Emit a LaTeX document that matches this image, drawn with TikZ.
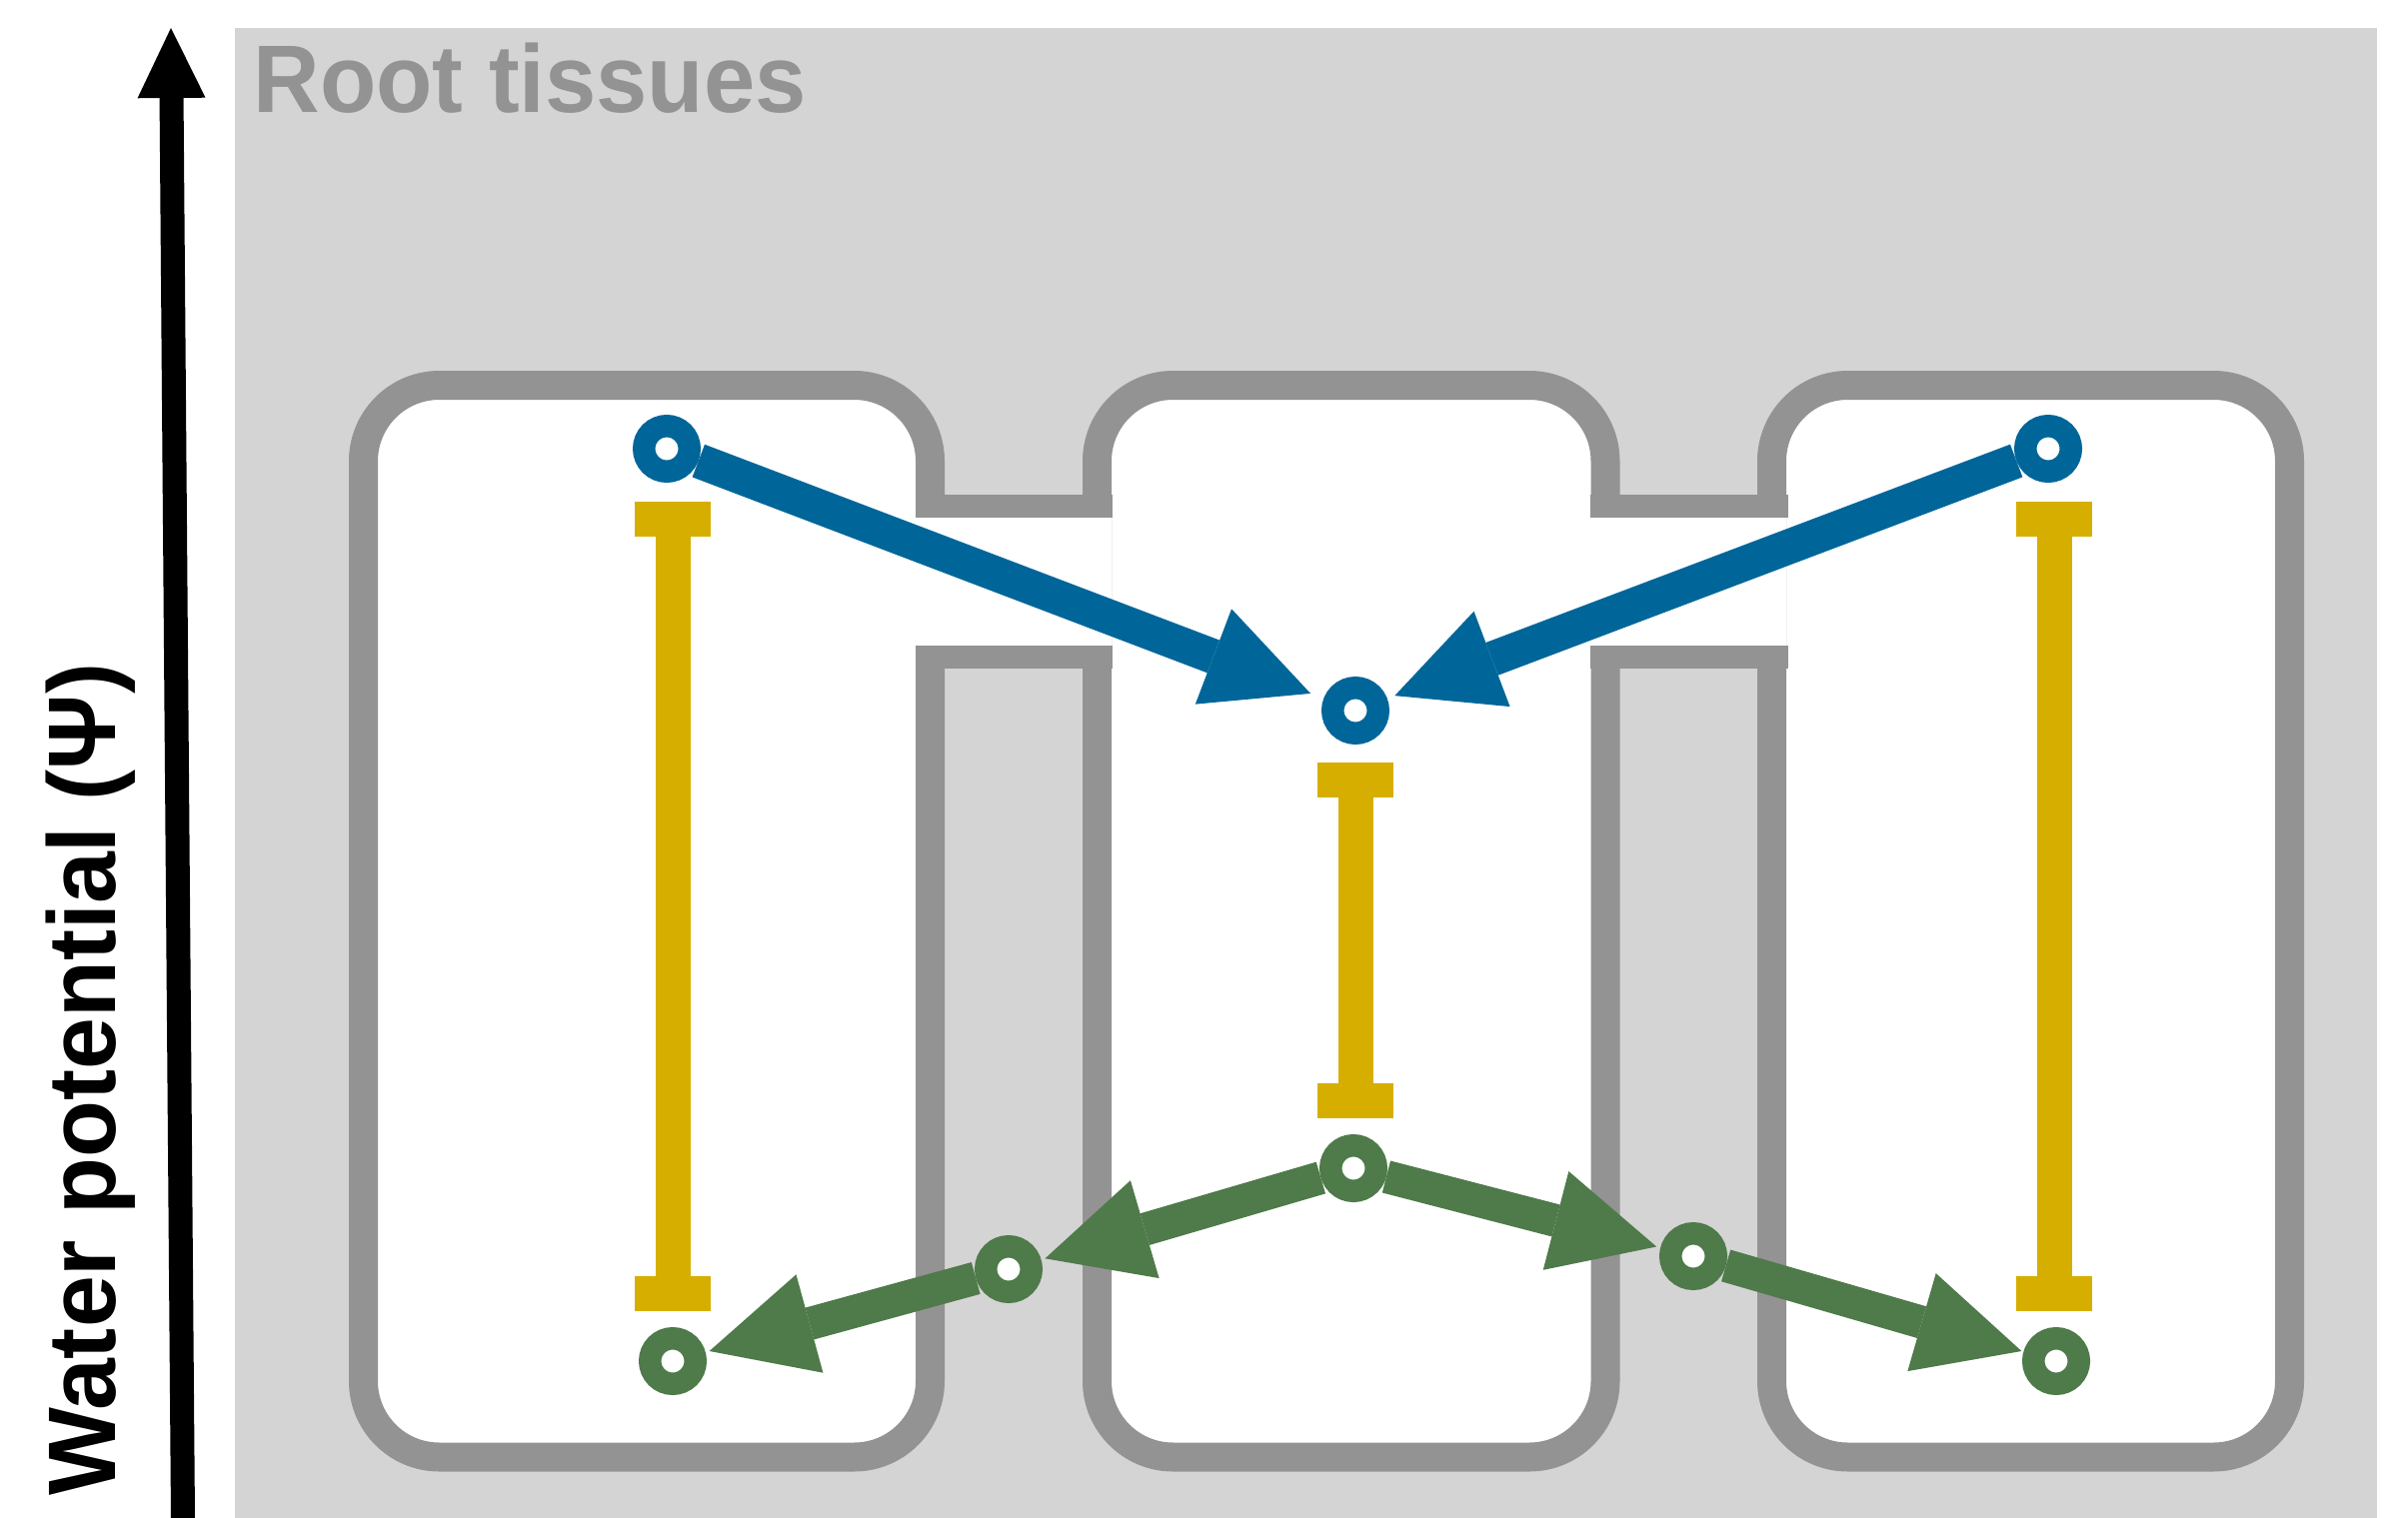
\documentclass[tikz,border=0pt]{standalone}
\usepackage{fontspec}
\setmainfont{Liberation Sans}
\usetikzlibrary{arrows.meta}
\definecolor{bggray}{HTML}{D4D4D4}
\definecolor{cellgray}{HTML}{939393}
\definecolor{flowblue}{HTML}{00669A}
\definecolor{flowgreen}{HTML}{4F7A4A}
\definecolor{ibeamyellow}{HTML}{D6AE00}
\pgfdeclarelayer{bgl}
\pgfdeclarelayer{flows}
\pgfsetlayers{bgl,flows,main}
\begin{document}
\begin{tikzpicture}[x=0.25pt,y=-0.25pt,
  cell/.style={draw=cellgray, line width=7.25pt, fill=white, rounded corners=19pt},
  wall/.style={draw=cellgray, line width=5.75pt},
  ybar/.style={draw=ibeamyellow, line width=8.75pt},
  ycap/.style={fill=ibeamyellow},
  ring/.style={circle, draw=#1, line width=5.625pt, fill=white, minimum size=11.375pt, inner sep=0pt, outer sep=2.8125pt},
  bluearrow/.style={draw=flowblue, line width=8.75pt, -{Triangle[length=26pt,width=25.5pt,line width=0pt]}},
  greenarrow/.style={draw=flowgreen, line width=8.25pt, -{Triangle[length=26pt,width=25.5pt,line width=0pt]}},
  axisarrow/.style={draw=black, line width=6pt, -{Triangle[length=17.5pt,width=17pt,line width=0pt]}},
  bigfont/.style={font=\fontsize{24pt}{28pt}\selectfont\bfseries}]
\useasboundingbox (0,0) rectangle (2409,1519);

\begin{pgfonlayer}{bgl}
  % tissue background
  \fill[bggray] (235,28) rectangle (2378,1519);
  \node[bigfont, text=cellgray, anchor=base west, inner sep=0pt, xscale=0.96] (title) at (253,113) {Root tissues};
  % cells
  \draw[cell] (363.5,385.5) rectangle (930.5,1458);
  \draw[cell] (1097.5,385.5) rectangle (1606,1458);
  \draw[cell] (1772.5,385.5) rectangle (2290.5,1458);
  % channels between cells
  \fill[white] (916,518) rectangle (1112,646);
  \draw[wall] (916,506.5) -- (1113,506.5);
  \draw[wall] (916,657.5) -- (1113,657.5);
  \fill[white] (1591,518) rectangle (1787,646);
  \draw[wall] (1591,506.5) -- (1789,506.5);
  \draw[wall] (1591,657.5) -- (1789,657.5);
  % potential ranges
  \draw[ybar] (673,520) -- (673,1295);
  \fill[ycap] (635,502) rectangle (711,537);
  \fill[ycap] (635,1277) rectangle (711,1312);
  \draw[ybar] (1356,780) -- (1356,1102);
  \fill[ycap] (1318,763) rectangle (1394,798);
  \fill[ycap] (1318,1084) rectangle (1394,1119);
  \draw[ybar] (2055,520) -- (2055,1295);
  \fill[ycap] (2017,502) rectangle (2093,537);
  \fill[ycap] (2017,1277) rectangle (2093,1312);
  % axis
  \coordinate (axb) at (183,1519);
  \coordinate (axt) at (171,28);
  \draw[axisarrow] (axb) -- (axt);
  \node[bigfont, rotate=90, xscale=0.97, anchor=base west, inner sep=0pt] (ylabel) at (115,1497) {Water potential (Ψ)};
\end{pgfonlayer}

% water potential points
\node[ring=flowblue] (bL) at (667,449) {};
\node[ring=flowblue] (bC) at (1356,711) {};
\node[ring=flowblue] (bR) at (2049,449) {};
\node[ring=flowgreen] (gC) at (1354,1169) {};
\node[ring=flowgreen] (gML) at (1009,1270) {};
\node[ring=flowgreen] (gL) at (673,1362) {};
\node[ring=flowgreen] (gMR) at (1694,1257) {};
\node[ring=flowgreen] (gR) at (2057,1362) {};

\begin{pgfonlayer}{flows}
  \draw[bluearrow, shorten >=3.5pt] (bL) -- (bC);
  \draw[bluearrow, shorten >=2pt] (bR) -- (bC);
  \draw[greenarrow, shorten >=1pt] (gC) -- (gML);
  \draw[greenarrow, shorten >=1pt] (gML) -- (gL);
  \draw[greenarrow, shorten >=1pt] (gC) -- (gMR);
  \draw[greenarrow, shorten >=0.5pt] (gMR) -- (gR);
\end{pgfonlayer}
\end{tikzpicture}
\end{document}
